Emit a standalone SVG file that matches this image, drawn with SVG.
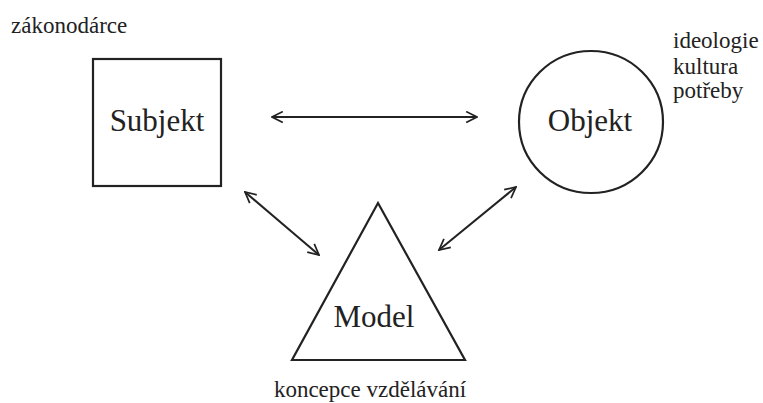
<svg xmlns="http://www.w3.org/2000/svg" width="763" height="403" viewBox="0 0 763 403">
<style>
  .shape { fill: #fff; stroke: #222; stroke-width: 2.2; }
  .big { font-family: 'Liberation Serif', 'Times New Roman', serif; font-size: 31px; fill: #222; text-anchor: middle; }
  .small { font-family: 'Liberation Serif', 'Times New Roman', serif; font-size: 23px; fill: #222; }
  .conn { stroke: #222; stroke-width: 2; fill: none; marker-start: url(#arr); marker-end: url(#arr); }
</style>
<defs>
  <marker id="arr" viewBox="0 0 12 12" refX="11" refY="6" markerWidth="6.5" markerHeight="6.5" orient="auto-start-reverse" markerUnits="strokeWidth">
    <path d="M1,1 L11,6 L1,11" fill="none" stroke="#222" stroke-width="1.6"/>
  </marker>
</defs>
<rect width="763" height="403" fill="#fff"/>
<g id="subjekt">
  <rect class="shape" x="93" y="59" width="128" height="127"/>
  <text class="big" x="157" y="131">Subjekt</text>
  <text class="small" x="11" y="33">zákonodárce</text>
</g>
<g id="objekt">
  <ellipse class="shape" cx="591" cy="122" rx="72" ry="71"/>
  <text class="big" x="590" y="131">Objekt</text>
  <text class="small" x="673" y="48">ideologie</text>
  <text class="small" x="673" y="74">kultura</text>
  <text class="small" x="673" y="98">potřeby</text>
</g>
<g id="model">
  <polygon class="shape" points="378,203 292,360 465,360"/>
  <text class="big" x="374" y="327">Model</text>
  <text class="small" x="370" y="397" text-anchor="middle">koncepce vzdělávání</text>
</g>
<g id="connectors">
  <line class="conn" x1="272" y1="117" x2="477" y2="117"/>
  <line class="conn" x1="245" y1="192" x2="319" y2="255"/>
  <line class="conn" x1="439" y1="250" x2="516" y2="187"/>
</g>
</svg>
